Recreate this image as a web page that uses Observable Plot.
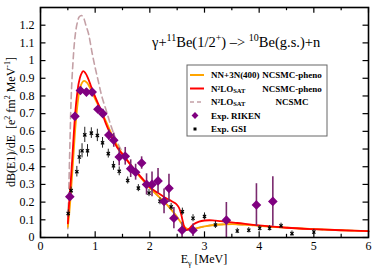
<!DOCTYPE html>
<html><head><meta charset="utf-8">
<script src="https://cdn.jsdelivr.net/npm/d3@7"></script>
<script src="https://cdn.jsdelivr.net/npm/@observablehq/plot@0.6"></script>
<style>
body{margin:0;background:#fff}
svg, svg text, svg tspan { font-family: 'Liberation Serif', 'DejaVu Serif', serif !important; }
</style>
</head><body><div id="chart"></div>
<script>
// Curves
const redX = [0.50,0.52,0.55,0.58,0.61,0.64,0.67,0.70,0.74,0.78,0.82,0.87,0.93,0.98,1.05,1.12,1.20,1.30,1.40,1.50,1.60,1.70,1.80,1.90,2.00,2.10,2.20,2.30,2.40,2.48,2.53,2.57,2.60,2.63,2.67,2.72,2.80,2.90,3.00,3.15,3.30,3.60,4.00,4.50,5.00,5.50,6.00];
const redY = [0.08,0.18,0.30,0.44,0.59,0.72,0.81,0.875,0.92,0.94,0.93,0.90,0.85,0.81,0.76,0.71,0.64,0.57,0.51,0.47,0.43,0.39,0.355,0.32,0.285,0.262,0.242,0.222,0.205,0.19,0.17,0.135,0.095,0.06,0.042,0.05,0.075,0.09,0.096,0.097,0.092,0.082,0.068,0.055,0.047,0.041,0.036];
const orangeX = [0.50,0.53,0.56,0.60,0.64,0.68,0.72,0.76,0.80,0.85,0.90,0.96,1.02,1.10,1.20,1.30,1.40,1.50,1.60,1.70,1.80,1.90,2.00,2.10,2.20,2.30,2.40,2.50,2.58,2.65,2.72,2.80,2.90,3.00,3.20,3.40,3.60,3.80,4.00,4.50,5.00,5.50,6.00];
const orangeY = [0.06,0.15,0.27,0.45,0.63,0.76,0.84,0.875,0.885,0.875,0.85,0.81,0.77,0.72,0.655,0.585,0.52,0.47,0.43,0.39,0.35,0.315,0.28,0.25,0.22,0.19,0.155,0.115,0.08,0.055,0.045,0.048,0.056,0.063,0.072,0.075,0.075,0.071,0.066,0.055,0.047,0.041,0.036];
const dashX = [0.50,0.52,0.54,0.56,0.59,0.63,0.67,0.71,0.75,0.79,0.83,0.88,0.94,1.00,1.06,1.12,1.20,1.28,1.36,1.45,1.60,1.80,2.00,2.20,2.40,2.50,2.58,2.65,2.72,2.80,3.00,3.40,4.00,5.00,6.00];
const dashY = [0.05,0.30,0.55,0.78,0.97,1.13,1.21,1.248,1.255,1.24,1.20,1.15,1.05,0.96,0.88,0.80,0.72,0.64,0.57,0.51,0.43,0.35,0.28,0.22,0.155,0.115,0.08,0.055,0.045,0.048,0.063,0.075,0.066,0.047,0.036];
// Exp. RIKEN
const rikenX = [0.536,0.63,0.73,0.84,0.945,1.05,1.14,1.25,1.34,1.44,1.55,1.65,1.74,1.85,1.94,2.04,2.15,2.26,2.35,2.44,2.59,2.79,3.40,3.95,4.25];
const rikenY = [0.231,0.685,0.831,0.822,0.822,0.725,0.70,0.579,0.55,0.455,0.459,0.389,0.369,0.421,0.30,0.30,0.32,0.204,0.278,0.109,0.041,0.041,0.098,0.184,0.204];
const rikenErr = [0.02,0.02,0.02,0.02,0.02,0.02,0.025,0.03,0.04,0.05,0.05,0.05,0.045,0.035,0.06,0.07,0.07,0.07,0.08,0.06,0.045,0.035,0.10,0.12,0.14];
// Exp. GSI
const gsiX = [0.506,0.56,0.665,0.71,0.76,0.81,0.86,0.93,1.04,1.135,1.24,1.335,1.44,1.595,1.79,1.985,2.185,2.39,2.595,2.79,3.0,3.2,3.6,3.81,4.01,4.19,4.40,4.60,5.00];
const gsiY = [0.136,0.265,0.372,0.455,0.49,0.58,0.49,0.59,0.577,0.535,0.474,0.405,0.374,0.322,0.279,0.251,0.205,0.173,0.146,0.109,0.119,0.071,0.037,0.041,0.052,0.052,0.066,0.022,0.031];
const gsiErr = [0.02,0.02,0.03,0.04,0.04,0.043,0.035,0.03,0.035,0.03,0.025,0.025,0.025,0.02,0.02,0.02,0.02,0.02,0.02,0.02,0.02,0.02,0.015,0.015,0.015,0.015,0.015,0.015,0.015];
// Ticks
const xMajor = [0,1,2,3,4,5,6];
const xMinor = [0.5,1.5,2.5,3.5,4.5,5.5];
const yTicks = [0,0.1,0.2,0.3,0.4,0.5,0.6,0.7,0.8,0.9,1,1.1,1.2];

const toPts = (xs, ys) => xs.map((x, i) => ({x, y: ys[i]}));
const red = toPts(redX, redY), orange = toPts(orangeX, orangeY), dash = toPts(dashX, dashY);
const riken = rikenX.map((x, i) => ({x, y: rikenY[i], e: rikenErr[i]}));
const gsi = gsiX.map((x, i) => ({x, y: gsiY[i], e: gsiErr[i]}));

const W = 374, H = 268, ML = 40, MR = 6, MT = 7, MB = 31;
const chart = Plot.plot({
  width: W, height: H, marginLeft: ML, marginRight: MR, marginTop: MT, marginBottom: MB,
  style: {fontFamily: "'Liberation Serif', serif", fontSize: "12px", background: "white", color: "black"},
  x: {domain: [0, 6], ticks: xMajor, tickSize: 0, tickPadding: 4, label: null, tickFormat: d => String(d)},
  y: {domain: [0, 1.3], ticks: yTicks, tickSize: 0, tickPadding: 6, label: null, tickFormat: d => String(d)},
  marks: [
    Plot.line(dash, {x: "x", y: "y", stroke: "#c4a0a6", strokeWidth: 1.6, strokeDasharray: "6,4", curve: "catmull-rom"}),
    Plot.line(orange, {x: "x", y: "y", stroke: "#ffa500", strokeWidth: 1.8, curve: "catmull-rom"}),
    Plot.line(red, {x: "x", y: "y", stroke: "#ff0000", strokeWidth: 1.8, curve: "catmull-rom"}),
    Plot.ruleX(gsi, {x: "x", y1: d => d.y - d.e, y2: d => d.y + d.e, stroke: "#222", strokeWidth: 1}),
    Plot.dot(gsi, {x: "x", y: "y", symbol: "times", r: 1.6, stroke: "#000", strokeWidth: 1.2}),
    Plot.ruleX(riken, {x: "x", y1: d => d.y - d.e, y2: d => d.y + d.e, stroke: "#7a2a6e", strokeWidth: 1.6}),
    Plot.dot(riken, {x: "x", y: "y", symbol: "diamond2", r: 3.4, fill: "#800080", stroke: "#800080"}),
    // inward ticks
    Plot.ruleX(xMajor, {x: d => d, y1: 0, y2: 0.032, stroke: "#000", strokeWidth: 1.2}),
    Plot.ruleX(xMinor, {x: d => d, y1: 0, y2: 0.018, stroke: "#000", strokeWidth: 1.2}),
    Plot.ruleX(xMajor, {x: d => d, y1: 1.3, y2: 1.268, stroke: "#000", strokeWidth: 1.2}),
    Plot.ruleX(xMinor, {x: d => d, y1: 1.3, y2: 1.282, stroke: "#000", strokeWidth: 1.2}),
    Plot.ruleY(yTicks, {y: d => d, x1: 0, x2: 0.1, stroke: "#000", strokeWidth: 1.2}),
    Plot.ruleY(yTicks, {y: d => d, x1: 6, x2: 5.9, stroke: "#000", strokeWidth: 1.2}),
    Plot.frame({stroke: "#000", strokeWidth: 1.6})
  ]
});
document.getElementById("chart").appendChild(chart);

const svg = d3.select(chart);
const serif = "'Liberation Serif', serif";
svg.selectAll("g").attr("font-family", serif);
// Title
const t = svg.append("text").attr("x", 152).attr("y", 47).attr("text-anchor", "start").attr("font-family", serif).attr("font-size", 14.5).attr("fill", "#000");
t.append("tspan").text("γ+");
t.append("tspan").attr("font-size", 10).attr("dy", -6).text("11");
t.append("tspan").attr("dy", 6).text("Be(1/2");
t.append("tspan").attr("font-size", 10).attr("dy", -6).text("+");
t.append("tspan").attr("dy", 6).text(") \u2013> ");
t.append("tspan").attr("font-size", 10).attr("dy", -6).text("10");
t.append("tspan").attr("dy", 6).text("Be(g.s.)+n");

// x label
const xl = svg.append("text").attr("x", (ML + W - MR) / 2).attr("y", 263).attr("text-anchor", "middle")
  .attr("font-family", serif).attr("font-size", 12).attr("fill", "#000");
xl.append("tspan").text("E");
xl.append("tspan").attr("font-size", 8).attr("dy", 3).text("γ");
xl.append("tspan").attr("dy", -3).text(" [MeV]");

// y label
const yl = svg.append("text").attr("transform", `translate(15,${(MT + H - MB) / 2}) rotate(-90)`).attr("text-anchor", "middle")
  .attr("font-family", serif).attr("font-size", 12).attr("fill", "#000");
yl.append("tspan").text("dB(E1)/dE  [e");
yl.append("tspan").attr("font-size", 8).attr("dy", -5).text("2");
yl.append("tspan").attr("dy", 5).text(" fm");
yl.append("tspan").attr("font-size", 8).attr("dy", -5).text("2");
yl.append("tspan").attr("dy", 5).text(" MeV");
yl.append("tspan").attr("font-size", 8).attr("dy", -5).text("-1");
yl.append("tspan").attr("dy", 5).text("]");

// Legend
const lg = svg.append("g").attr("font-family", serif).attr("font-weight", "bold").attr("font-size", 9).attr("fill", "#000").attr("text-anchor", "start");
lg.append("rect").attr("x", 187).attr("y", 65).attr("width", 140).attr("height", 71).attr("fill", "#fff").attr("stroke", "#666").attr("stroke-width", 1);
const rows = [75, 88.5, 102, 115.5, 129];
lg.append("line").attr("x1", 190).attr("x2", 204).attr("y1", rows[0]).attr("y2", rows[0]).attr("stroke", "#ffa500").attr("stroke-width", 2);
lg.append("line").attr("x1", 190).attr("x2", 204).attr("y1", rows[1]).attr("y2", rows[1]).attr("stroke", "#ff0000").attr("stroke-width", 2);
lg.append("line").attr("x1", 190).attr("x2", 204).attr("y1", rows[2]).attr("y2", rows[2]).attr("stroke", "#c4a0a6").attr("stroke-width", 1.6).attr("stroke-dasharray", "4,3");
lg.append("path").attr("d", d3.symbol(d3.symbolDiamond2, 30)()).attr("transform", `translate(195,${rows[3]})`).attr("fill", "#800080");
lg.append("rect").attr("x", 193.5).attr("y", rows[4] - 1.5).attr("width", 3).attr("height", 3).attr("fill", "#000");
function n2lo(y) {
  const tx = lg.append("text").attr("x", 211).attr("y", y + 3).attr("text-anchor", "start");
  tx.append("tspan").text("N²LO");
  tx.append("tspan").attr("font-size", 6.5).attr("dy", 1).text("SAT");
}
lg.append("text").attr("x", 211).attr("y", rows[0] + 3).attr("text-anchor", "start").text("NN+3N(400)");
n2lo(rows[1]);
n2lo(rows[2]);
lg.append("text").attr("x", 292).attr("y", rows[0] + 3).attr("text-anchor", "middle").text("NCSMC-pheno");
lg.append("text").attr("x", 292).attr("y", rows[1] + 3).attr("text-anchor", "middle").text("NCSMC-pheno");
lg.append("text").attr("x", 292).attr("y", rows[2] + 3).attr("text-anchor", "middle").text("NCSMC");
lg.append("text").attr("x", 211).attr("y", rows[3] + 3).attr("text-anchor", "start").text("Exp. RIKEN");
lg.append("text").attr("x", 211).attr("y", rows[4] + 3).attr("text-anchor", "start").text("Exp. GSI");
</script>
</body></html>
